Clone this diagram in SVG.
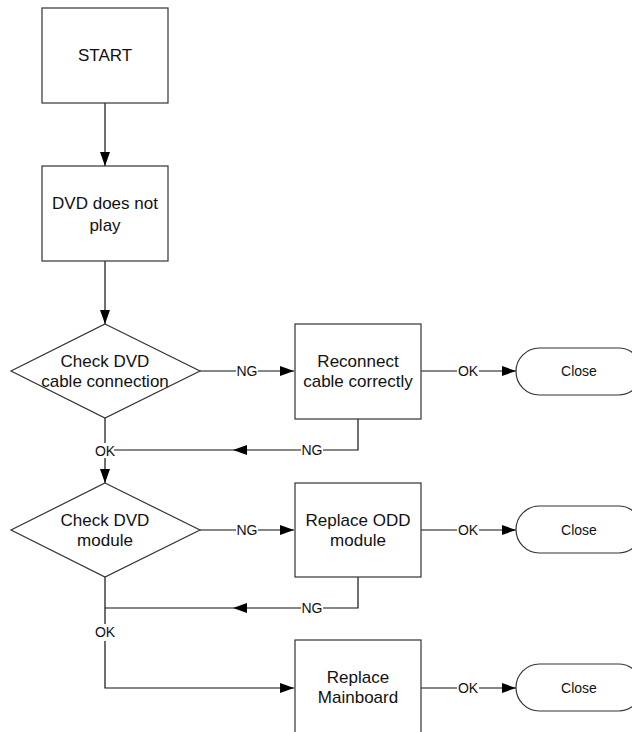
<svg xmlns="http://www.w3.org/2000/svg" width="632" height="732" viewBox="0 0 632 732">
<style>
.box{fill:#fff;stroke:#333;stroke-width:1.2}
.ln{fill:none;stroke:#111;stroke-width:1.2}
.t{font-family:"Liberation Sans",Arial,sans-serif;font-size:17px;fill:#111;text-anchor:middle}
.s{font-family:"Liberation Sans",Arial,sans-serif;font-size:14px;fill:#111;text-anchor:middle}
</style>
<defs>
<marker id="ah" markerUnits="userSpaceOnUse" markerWidth="14" markerHeight="10" refX="14" refY="5" orient="auto">
<path d="M0,0 L14,5 L0,10 Z" fill="#000"/>
</marker>
</defs>
<rect width="632" height="732" fill="#fff"/>
<g id="connectors">
<line class="ln" x1="105" y1="103" x2="105" y2="166" marker-end="url(#ah)"/>
<line class="ln" x1="105" y1="261" x2="105" y2="324" marker-end="url(#ah)"/>
<line class="ln" x1="200" y1="371" x2="236" y2="371"/>
<line class="ln" x1="258" y1="371" x2="294" y2="371" marker-end="url(#ah)"/>
<text class="s" x="247" y="376">NG</text>
<line class="ln" x1="421" y1="371" x2="457" y2="371"/>
<line class="ln" x1="479" y1="371" x2="516" y2="371" marker-end="url(#ah)"/>
<text class="s" x="468" y="376">OK</text>
<polyline class="ln" points="358,419 358,450 323,450"/>
<text class="s" x="312" y="455">NG</text>
<line class="ln" x1="301" y1="450" x2="233" y2="450" marker-end="url(#ah)"/>
<line class="ln" x1="233" y1="450" x2="105" y2="450"/>
<line class="ln" x1="105" y1="418" x2="105" y2="483" marker-end="url(#ah)"/>
<rect x="95" y="443" width="19" height="15" fill="#fff"/>
<text class="s" x="105" y="456">OK</text>
<line class="ln" x1="200" y1="530" x2="236" y2="530"/>
<line class="ln" x1="258" y1="530" x2="294" y2="530" marker-end="url(#ah)"/>
<text class="s" x="247" y="535">NG</text>
<line class="ln" x1="421" y1="530" x2="457" y2="530"/>
<line class="ln" x1="479" y1="530" x2="516" y2="530" marker-end="url(#ah)"/>
<text class="s" x="468" y="535">OK</text>
<polyline class="ln" points="358,577 358,608 323,608"/>
<text class="s" x="312" y="613">NG</text>
<line class="ln" x1="301" y1="608" x2="233" y2="608" marker-end="url(#ah)"/>
<line class="ln" x1="233" y1="608" x2="105" y2="608"/>
<line class="ln" x1="105" y1="577" x2="105" y2="624"/>
<text class="s" x="105" y="637">OK</text>
<polyline class="ln" points="105,641 105,688 294,688" marker-end="url(#ah)"/>
<line class="ln" x1="421" y1="688" x2="457" y2="688"/>
<line class="ln" x1="479" y1="688" x2="516" y2="688" marker-end="url(#ah)"/>
<text class="s" x="468" y="693">OK</text>
</g>
<g id="start">
<rect class="box" x="42" y="8" width="126" height="95"/>
<text class="t" x="105" y="61">START</text>
</g>
<g id="dvd-not-play">
<rect class="box" x="42" y="166" width="126" height="95"/>
<text class="t" x="105" y="209">DVD does not</text>
<text class="t" x="105" y="231">play</text>
</g>
<g id="check-cable">
<polygon class="box" points="105,324 200,371 105,418 11,371"/>
<text class="t" x="105" y="367">Check DVD</text>
<text class="t" x="105" y="387">cable connection</text>
</g>
<g id="reconnect">
<rect class="box" x="295" y="324" width="126" height="95"/>
<text class="t" x="358" y="367">Reconnect</text>
<text class="t" x="358" y="387">cable correctly</text>
</g>
<g id="close1">
<rect class="box" x="516" y="348" width="126" height="47" rx="23.5"/>
<text class="s" x="579" y="376">Close</text>
</g>
<g id="check-module">
<polygon class="box" points="105,483 200,530 105,577 11,530"/>
<text class="t" x="105" y="526">Check DVD</text>
<text class="t" x="105" y="546">module</text>
</g>
<g id="replace-odd">
<rect class="box" x="295" y="483" width="126" height="94"/>
<text class="t" x="358" y="526">Replace ODD</text>
<text class="t" x="358" y="546">module</text>
</g>
<g id="close2">
<rect class="box" x="516" y="506" width="126" height="47" rx="23.5"/>
<text class="s" x="579" y="535">Close</text>
</g>
<g id="replace-mainboard">
<rect class="box" x="295" y="640" width="126" height="95"/>
<text class="t" x="358" y="683">Replace</text>
<text class="t" x="358" y="703">Mainboard</text>
</g>
<g id="close3">
<rect class="box" x="516" y="664" width="126" height="47" rx="23.5"/>
<text class="s" x="579" y="693">Close</text>
</g>
</svg>
